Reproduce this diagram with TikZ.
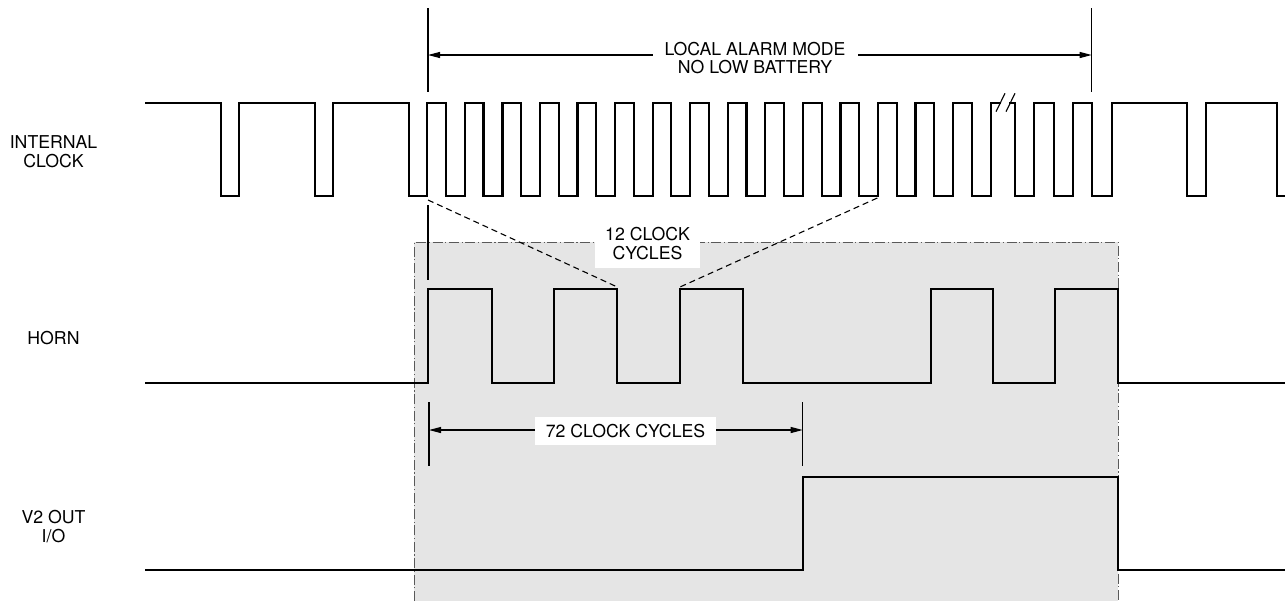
\documentclass[tikz,border=0pt]{standalone}
\usepackage{fontspec}
\setmainfont{TeX Gyre Heros}
\usetikzlibrary{arrows.meta}
\begin{document}
\begin{tikzpicture}[x=0.5pt,y=-0.5pt,
  wave/.style={line width=1.1pt, line join=miter, line cap=rect},
  thinln/.style={line width=0.55pt},
  dimarrow/.style={line width=0.55pt, {Triangle[length=6pt,width=3pt]}-{Triangle[length=6pt,width=3pt]}},
  guide/.style={line width=0.55pt, dash pattern=on 3pt off 2pt},
  border/.style={line width=0.45pt, black!65, dash pattern=on 5pt off 1.3pt on 0.6pt off 1.3pt},
  lbl/.style={font=\fontsize{8.85}{9.6}\selectfont, align=center, inner sep=0pt},
  whitebox/.style={fill=white, inner sep=0pt, font=\fontsize{8.85}{9.2}\selectfont, align=center}]
\useasboundingbox (0,0) rectangle (1285,601);

% shaded region
\fill[black!10] (414,242.3) rectangle (1118,601);
\draw[border] (414,601) -- (414,242.3) -- (1118,242.3) -- (1118,601);

% signal labels
\node[lbl] (lclk) at (53.5,151.5) {INTERNAL\\CLOCK};
\node[lbl] (lhorn) at (53.5,338) {HORN};
\node[lbl] (lv2) at (53.5,526.7) {V2 OUT\\I/O};

% internal clock
\draw[wave] (146,102.7) -- (220.7,102.7) -- (220.7,195.7) -- (239.3,195.7) -- (239.3,102.7)
  -- (315,102.7) -- (315,195.7) -- (333.3,195.7) -- (333.3,102.7)
  -- (409,102.7) -- (409,195.7) -- (427.3,195.7) -- (427.3,102.7)
  \foreach \k [evaluate=\k as \r using 427.3+37.56*\k] in {0,...,14} {
    -- (\r+18.7,102.7) -- (\r+18.7,195.7) -- (\r+37.56,195.7) -- (\r+37.56,102.7) }
  -- (999.5,102.7);
\draw[wave] (1010,102.7) -- (1015,102.7) -- (1015,195.7) -- (1034,195.7) -- (1034,102.7)
  -- (1054,102.7) -- (1054,195.7) -- (1072.7,195.7) -- (1072.7,102.7)
  -- (1091.7,102.7) -- (1091.7,195.7) -- (1111.7,195.7) -- (1111.7,102.7)
  -- (1186.7,102.7) -- (1186.7,195.7) -- (1206,195.7) -- (1206,102.7)
  -- (1276.7,102.7) -- (1276.7,195.7) -- (1285,195.7);
% break marks
\draw[thinln] (996,111.7) -- (1005,93.3);
\draw[thinln] (1006,111.7) -- (1015,93.3);

% horn
\draw[wave] (146,382.7) -- (428,382.7) -- (428,289.3) -- (491.7,289.3) -- (491.7,382.7)
  -- (554.3,382.7) -- (554.3,289.3) -- (617.3,289.3) -- (617.3,382.7)
  -- (680,382.7) -- (680,289.3) -- (742.7,289.3) -- (742.7,382.7)
  -- (930.7,382.7) -- (930.7,289.3) -- (993.3,289.3) -- (993.3,382.7)
  -- (1055.3,382.7) -- (1055.3,289.3) -- (1118,289.3) -- (1118,382.7) -- (1285,382.7);

% V2 out
\draw[wave] (146,570) -- (803,570) -- (803,476.7) -- (1118,476.7) -- (1118,570) -- (1285,570);

% top dimension
\coordinate (ta1) at (428,8);
\coordinate (ta2) at (428,92);
\coordinate (tb1) at (1091.7,8);
\coordinate (tb2) at (1091.7,92);
\coordinate (tal) at (428,55);
\coordinate (tbl) at (1091.7,55);
\draw[thinln] (ta1) -- (ta2);
\draw[thinln] (tb1) -- (tb2);
\draw[dimarrow] (tal) -- (tbl);
\node[whitebox, inner xsep=6pt, inner ysep=1pt, font=\fontsize{8.85}{8.9}\selectfont] (mode) at (755,58) {LOCAL ALARM MODE\\NO LOW BATTERY};

% horn start marker and 12 cycles guides
\coordinate (hm1) at (428,205);
\coordinate (hm2) at (428,280);
\draw[thinln] (hm1) -- (hm2);
\coordinate (ga1) at (428,200);
\coordinate (ga2) at (617.3,287);
\coordinate (gb1) at (877.3,198);
\coordinate (gb2) at (680,287);
\draw[guide] (ga1) -- (ga2);
\draw[guide] (gb1) -- (gb2);
\node[whitebox, minimum width=52.5pt, minimum height=24.5pt] (twelve) at (647.5,243.5) {12 CLOCK\\CYCLES};

% 72 clock cycles dimension
\coordinate (sa1) at (429,402);
\coordinate (sa2) at (429,466);
\coordinate (sb1) at (802.7,402);
\coordinate (sb2) at (802.7,466);
\coordinate (sal) at (429,430);
\coordinate (sbl) at (802.7,430);
\draw[thinln] (sa1) -- (sa2);
\draw[thinln] (sb1) -- (sb2);
\draw[dimarrow] (sal) -- (sbl);
\node[whitebox, minimum width=90.5pt, minimum height=14pt] (seventy) at (625.5,431) {72 CLOCK CYCLES};
\end{tikzpicture}
\end{document}
